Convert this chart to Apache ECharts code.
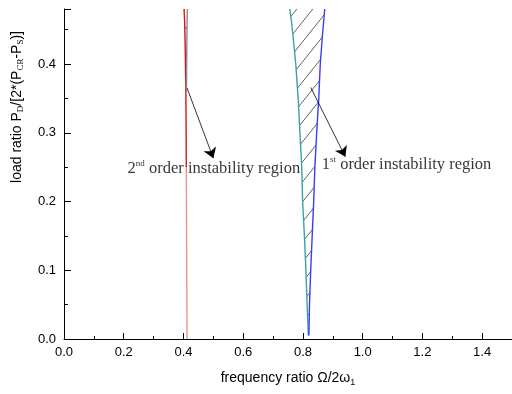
<!DOCTYPE html>
<html><head><meta charset="utf-8">
<script src="https://cdn.jsdelivr.net/npm/echarts@6/dist/echarts.min.js"></script>
<style>html,body{margin:0;padding:0;background:#fff}#c{width:512px;height:394px}</style>
</head><body><div id="c"></div>
<script>
// ---- data ----
const xTickLabels = ['0.0','0.2','0.4','0.6','0.8','1.0','1.2','1.4'];
const yTickLabels = ['0.0','0.1','0.2','0.3','0.4'];
// 2nd order region boundaries [x, y]
const secondLowerRed = [[0.412,0.0],[0.411,0.1],[0.410,0.2],[0.4095,0.25]];
const secondUpperRed = [[0.4095,0.25],[0.409,0.3],[0.408,0.36],[0.406,0.42],[0.404,0.46],[0.402,0.48]];
const secondGray = [[0.410,0.36],[0.411,0.42],[0.412,0.46],[0.413,0.48]];
// 1st order region boundaries
const firstY     = [0.005,0.05,0.1,0.15,0.2,0.25,0.3,0.35,0.4,0.44,0.46,0.48];
const firstLeftX = [0.818,0.814,0.810,0.805,0.799,0.796,0.790,0.784,0.776,0.767,0.762,0.756];
const firstRightX= [0.820,0.822,0.826,0.831,0.836,0.840,0.846,0.853,0.858,0.865,0.869,0.873];
// annotations
const arrow2nd = [[0.412,0.365],[0.50,0.263]];
const arrow1st = [[0.826,0.366],[0.942,0.265]];
const label2nd = {pos:[0.213,0.248], sup:'nd', text:'2'};
const label1st = {pos:[0.863,0.254], sup:'st', text:'1'};

const firstLeft = firstY.map((y,i)=>[firstLeftX[i], y]);
const firstRight = firstY.map((y,i)=>[firstRightX[i], y]);
const firstPoly = firstLeft.concat(firstRight.slice().reverse());
const secondPoly = secondUpperRed.filter(p=>p[1]>=0.36).concat(secondGray.slice().reverse());

// hatch pattern
const pc = document.createElement('canvas');
pc.width = 16; pc.height = 20;
const g = pc.getContext('2d');
g.strokeStyle = '#3a3a3a'; g.lineWidth = 0.8;
g.beginPath(); g.moveTo(-2, 22.5); g.lineTo(18, -2.5); g.stroke();
const hatch = {image: pc, repeat: 'repeat'};

const chart = echarts.init(document.getElementById('c'), null, {renderer:'canvas'});
const sansFont = '"Liberation Sans", Arial, sans-serif';
const serifFont = '"Liberation Serif", "Times New Roman", serif';

function polySeries(poly){
  return {
    type:'custom', coordinateSystem:'cartesian2d', data: poly, silent:true, z:1,
    renderItem: function(params, api){
      if (params.dataIndex !== 0) return null;
      return {type:'polygon', shape:{points: poly.map(p=>api.coord(p))}, style:{fill: hatch, stroke: null}};
    }
  };
}
function lineSeries(data, color){
  return {type:'line', data: data, showSymbol:false, symbol:'none', silent:true, z:3,
    lineStyle:{color: color, width:1.4}};
}
function labelSeries(l){
  return {type:'scatter', data:[l.pos], symbolSize:0, silent:true, z:5,
    label:{show:true, position:'right', distance:0,
      formatter: '{n|' + l.text + '}{s|' + l.sup + '}{n| order instability region}',
      rich:{
        n:{fontFamily: serifFont, fontSize:16.5, color:'#000', lineHeight:18},
        s:{fontFamily: serifFont, fontSize:9, color:'#000', verticalAlign:'top', lineHeight:18, padding:[0,0,8,0]}
      }}};
}
function arrowSeries(a){
  return {type:'lines', coordinateSystem:'cartesian2d', silent:true, z:4,
    symbol:['none','arrow'], symbolSize:[6,10],
    lineStyle:{color:'#000', width:0.8, opacity:1},
    data:[{coords:a}]};
}

chart.setOption({
  animation:false,
  backgroundColor:'#fff',
  grid:{left:64, top:9, width:450, height:330, containLabel:false},
  xAxis:{type:'value', min:0, max:1.5, interval:0.2,
    name:'frequency ratio Ω/2ω{sub|1}', nameLocation:'middle', nameGap:31,
    nameTextStyle:{fontFamily:sansFont, fontSize:14, color:'#000',
      rich:{sub:{fontFamily:sansFont, fontSize:9, color:'#000', verticalAlign:'bottom', padding:[8,0,0,0]}}},
    axisLine:{lineStyle:{color:'#000', width:1}},
    axisTick:{inside:true, length:6, lineStyle:{color:'#000'}},
    minorTick:{show:true, splitNumber:2, length:3, lineStyle:{color:'#000'}},
    splitLine:{show:false},
    axisLabel:{showMaxLabel:false, fontFamily:sansFont, fontSize:13, color:'#000', margin:7,
      formatter:(v)=>{const i=Math.round(v/0.2); return Math.abs(v-i*0.2)<1e-6 ? xTickLabels[i] : '';}}
  },
  yAxis:{type:'value', min:0, max:0.48, interval:0.1,
    axisLine:{show:true, lineStyle:{color:'#000', width:1}},
    axisTick:{show:true, inside:true, length:7, lineStyle:{color:'#000'}},
    minorTick:{show:true, splitNumber:2, length:4, lineStyle:{color:'#000'}},
    splitLine:{show:false},
    axisLabel:{showMaxLabel:false, fontFamily:sansFont, fontSize:13, color:'#000', margin:8,
      formatter:(v)=>{const i=Math.round(v/0.1); return Math.abs(v-i*0.1)<1e-6 ? yTickLabels[i] : '';}}
  },
  graphic:[{
    type:'text', x:17, y:107, rotation:Math.PI/2, silent:true,
    style:{text:'load ratio P{sub|D}/[2*(P{sub|CR}-P{sub|S})]', align:'center', verticalAlign:'middle',
      fontFamily:sansFont, fontSize:14, fill:'#000',
      rich:{sub:{fontFamily:serifFont, fontSize:9, fill:'#000', verticalAlign:'bottom', padding:[8,0,0,0]}}}
  }],
  series:[
    polySeries(firstPoly),
    polySeries(secondPoly),
    lineSeries(secondLowerRed, '#f29090'),
    lineSeries(secondUpperRed, '#d01818'),
    lineSeries(secondGray, '#8a8a8a'),
    lineSeries(firstLeft, '#3aa3a3'),
    lineSeries(firstRight, '#3c3cf0'),
    arrowSeries(arrow2nd),
    arrowSeries(arrow1st),
    labelSeries(label2nd),
    labelSeries(label1st)
  ]
});
</script></body></html>
